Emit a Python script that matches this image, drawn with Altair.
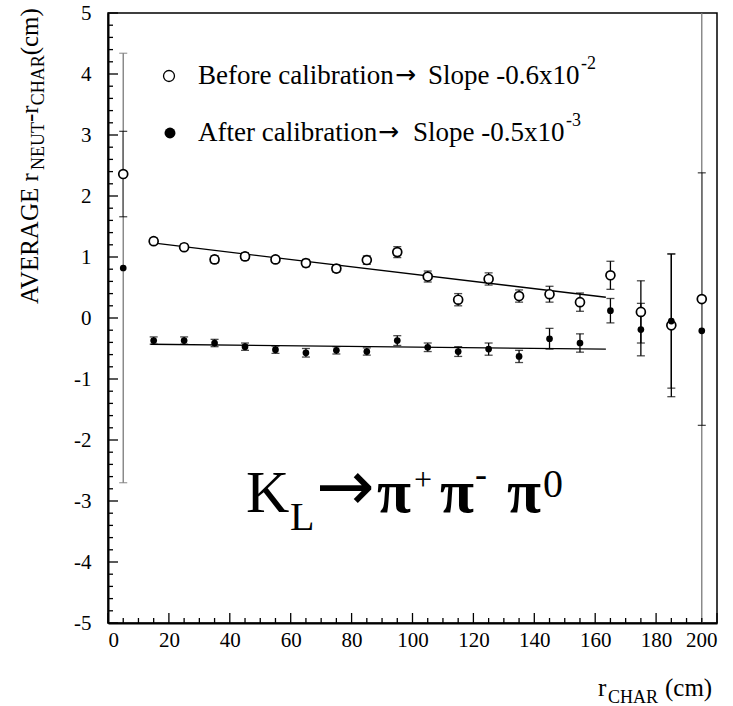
import altair as alt
import pandas as pd
import numpy as np

SERIF = "Liberation Serif"
ARROWFONT = "DejaVu Sans"

# ---------------- data ----------------
r_char = [5, 15, 25, 35, 45, 55, 65, 75, 85, 95, 105, 115, 125, 135, 145, 155, 165, 175, 185, 195]
before = [2.36, 1.26, 1.16, 0.96, 1.01, 0.96, 0.90, 0.81, 0.95, 1.08, 0.68, 0.30, 0.64, 0.36, 0.39, 0.26,
          0.70, 0.10, -0.12, 0.31]
before_err = [0.70, 0.05, 0.05, 0.06, 0.06, 0.05, 0.06, 0.06, 0.07, 0.09, 0.09, 0.10, 0.10, 0.10, 0.13, 0.15,
              0.23, 0.51, 1.17, 2.07]
after = [0.82, -0.37, -0.37, -0.41, -0.47, -0.52, -0.57, -0.53, -0.55, -0.37, -0.48, -0.55, -0.51, -0.63,
         -0.34, -0.41, 0.12, -0.19, -0.05, -0.21]
after_err = [3.52, 0.06, 0.06, 0.06, 0.06, 0.06, 0.07, 0.06, 0.06, 0.08, 0.07, 0.08, 0.10, 0.10, 0.17, 0.15,
             0.20, 0.43, 1.10, 5.60]

fit_x = [14, 163.5]
before_fit = [1.235, 0.34]
after_fit = [-0.43, -0.51]

x_major = list(range(0, 201, 20))
x_minor = [v for v in range(0, 201, 5) if v % 20 != 0]
y_major = list(range(-5, 6))
y_minor = [round(v, 1) for v in np.arange(-5, 5.001, 0.2) if abs(v - round(v)) > 1e-6]

# ---------------- layout ----------------
PL, PT, PR, PB = 108, 13, 16, 83
W, H = 733 - PL - PR, 706 - PT - PB

xs = alt.Scale(domain=[0, 200], nice=False, zero=False)
ys = alt.Scale(domain=[-5, 5], nice=False, zero=False)
xaxis = alt.Axis(values=x_major, title=None, labelPadding=6, labelExpr="'' + datum.value")
yaxis = alt.Axis(values=y_major, title=None, labelPadding=17, labelExpr="'' + datum.value")

pts = pd.concat([
    pd.DataFrame({"x": r_char, "y": before, "err": before_err, "s": "before"}),
    pd.DataFrame({"x": r_char, "y": after, "err": after_err, "s": "after"}),
])
fits = pd.concat([
    pd.DataFrame({"x": fit_x, "y": before_fit, "s": "before"}),
    pd.DataFrame({"x": fit_x, "y": after_fit, "s": "after"}),
])

base = alt.Chart(pts).transform_calculate(lo="datum.y - datum.err", hi="datum.y + datum.err")
bar_color = alt.condition("datum.err > 3", alt.value("#7a7a7a"), alt.value("black"))

bars = base.mark_rule(clip=True, strokeWidth=1.3).encode(
    x=alt.X("x:Q", scale=xs, axis=xaxis),
    y=alt.Y("lo:Q", scale=ys, axis=yaxis),
    y2="hi:Q",
    color=bar_color,
)
caps_lo = base.mark_tick(clip=True, orient="horizontal", size=8, thickness=1.3).encode(
    x=alt.X("x:Q", scale=xs), y=alt.Y("lo:Q", scale=ys), color=bar_color)
caps_hi = base.mark_tick(clip=True, orient="horizontal", size=8, thickness=1.3).encode(
    x=alt.X("x:Q", scale=xs), y=alt.Y("hi:Q", scale=ys), color=bar_color)

lines = alt.Chart(fits).mark_line(color="black", strokeWidth=1.3).encode(
    x=alt.X("x:Q", scale=xs), y=alt.Y("y:Q", scale=ys), detail="s:N")

open_pts = base.transform_filter("datum.s == 'before'").mark_point(
    shape="circle", filled=True, fill="white", stroke="black", strokeWidth=1.7, size=80, opacity=1
).encode(x=alt.X("x:Q", scale=xs), y=alt.Y("y:Q", scale=ys))
full_pts = base.transform_filter("datum.s == 'after'").mark_circle(
    color="black", size=45, opacity=1
).encode(x=alt.X("x:Q", scale=xs), y=alt.Y("y:Q", scale=ys))

# inward axis ticks
def yticks(vals, length):
    return alt.Chart(pd.DataFrame({"v": vals})).mark_rule(color="black", strokeWidth=1.3).encode(
        y=alt.Y("v:Q", scale=ys), x=alt.value(0), x2=alt.value(length))

def xticks(vals, length):
    return alt.Chart(pd.DataFrame({"v": vals})).mark_rule(color="black", strokeWidth=1.3).encode(
        x=alt.X("v:Q", scale=xs), y=alt.value(H), y2=alt.value(H - length))

# ---------------- text helpers ----------------
TIMES = {"A": 722, "V": 722, "E": 611, "R": 667, "G": 722, " ": 250, "r": 333, "N": 722, "U": 722,
         "T": 611, "-": 333, "C": 667, "H": 722, "(": 333, "c": 444, "m": 778, ")": 333}

def tw(s, size):
    return sum(TIMES.get(ch, 500) for ch in s) * size / 1000.0

def txt(s, px, py, size, angle=None, weight="normal", font=SERIF):
    kw = dict(align="left", baseline="alphabetic", font=font, fontSize=size,
              fontWeight=weight, color="black")
    if angle is not None:
        kw["angle"] = angle
    return alt.Chart(pd.DataFrame({"t": [s]})).mark_text(**kw).encode(
        x=alt.value(px - PL), y=alt.value(py - PT), text="t:N")

texts = []
# y-axis title (rotated, read bottom to top)
MAIN, SUB = 25, 18
ypos = 304
for piece, sub in [("AVERAGE r", False), ("NEUT", True), ("-r", False), ("CHAR", True), ("(cm)", False)]:
    size = SUB if sub else MAIN
    texts.append(txt(piece, 44 if sub else 38, ypos, size, angle=270))
    ypos -= tw(piece, size)

# x-axis title
texts.append(txt("r", 598, 696, MAIN))
texts.append(txt("CHAR", 608, 703, SUB))
texts.append(txt("(cm)", 665, 696, MAIN))

# legend
LEG = 27
texts.append(txt("Before calibration", 198, 84, LEG))
texts.append(txt("\u2192", 395, 83, 25, font=ARROWFONT))
texts.append(txt("Slope -0.6x10", 428, 84, LEG))
texts.append(txt("-2", 581, 69, 18))
texts.append(txt("After calibration", 198, 141, LEG))
texts.append(txt("\u2192", 378, 140, 25, font=ARROWFONT))
texts.append(txt("Slope -0.5x10", 413, 141, LEG))
texts.append(txt("-3", 566, 126, 18))

leg_open = alt.Chart(pd.DataFrame({"a": [0]})).mark_point(
    shape="circle", filled=True, fill="white", stroke="black", strokeWidth=1.3, size=120, opacity=1
).encode(x=alt.value(169 - PL), y=alt.value(76 - PT))
leg_full = alt.Chart(pd.DataFrame({"a": [0]})).mark_circle(color="black", size=120, opacity=1).encode(
    x=alt.value(170 - PL), y=alt.value(133 - PT))

# reaction label
texts.append(txt("K", 246, 512, 60))
texts.append(txt("L", 290, 530, 40))
texts.append(txt("\u2192", 316, 510, 70, font=ARROWFONT))
texts.append(txt("\u03c0", 377, 512, 62, weight="bold"))
texts.append(txt("+", 414, 490, 32))
texts.append(txt("\u03c0", 440, 512, 62, weight="bold"))
texts.append(txt("-", 475, 486, 36))
texts.append(txt("\u03c0", 507, 512, 62, weight="bold"))
texts.append(txt("0", 543, 497, 40))

chart = alt.layer(
    bars, caps_lo, caps_hi, lines, open_pts, full_pts,
    yticks(y_major, 10), yticks(y_minor, 5), xticks(x_major, 10), xticks(x_minor, 5),
    leg_open, leg_full, *texts
).properties(
    width=W, height=H,
    padding={"left": PL, "top": PT, "right": PR, "bottom": PB},
    autosize=alt.AutoSizeParams(type="none"),
    background="white",
).configure_axis(
    labelFont=SERIF, labelFontSize=21, labelColor="black", grid=False, ticks=False,
    domain=True, domainColor="black", domainWidth=2,
).configure_view(stroke="black", strokeWidth=1.5)

chart.save("out.html", embed_options={"renderer": "svg", "actions": False})
